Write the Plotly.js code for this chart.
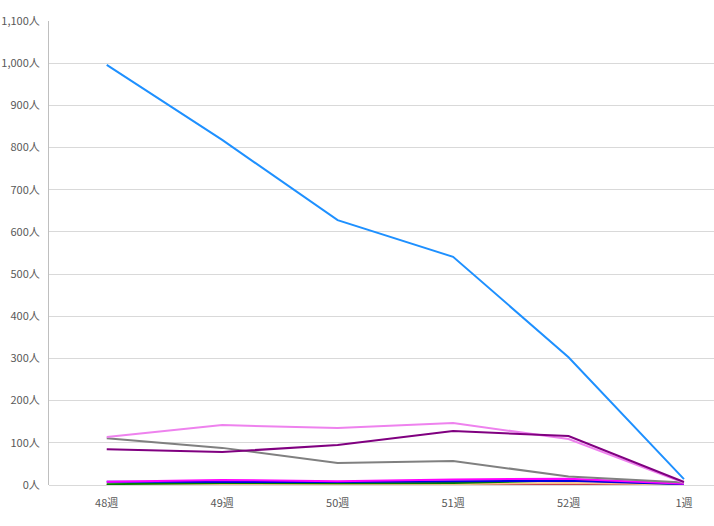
<!DOCTYPE html>
<html><head><meta charset="utf-8">
<script src="https://cdn.plot.ly/plotly-3.0.1.min.js"></script>
<style>html,body{margin:0;padding:0;background:#fff;overflow:hidden}#c{width:714px;height:526px}</style>
</head><body><div id="c"></div>
<script>
const weeks = ["48週","49週","50週","51週","52週","1週"];
const sBlue    = [996, 818, 628, 541, 303, 14];
const sViolet  = [114, 142, 135, 147, 109, 5];
const sPurple  = [85, 78, 95, 128, 116, 7];
const sGray    = [111, 88, 52, 57, 20, 6];
const sMagenta = [8, 12, 9, 13, 15, 3];
const sNavy    = [8, 8, 7, 9, 10, 2];
const sGreen   = [2, 5, 4, 5, 11, 3];
const sTan     = [1, 2, 1, 2, 5, 1];
const sRed     = [0, 2, 1, 1, 1, 0];

const series = [
  [sRed, "#c0143c"],
  [sTan, "#f4c089"],
  [sGreen, "#008000"],
  [sNavy, "#0000e0"],
  [sMagenta, "#ff00ff"],
  [sGray, "#808080"],
  [sViolet, "#ee82ee"],
  [sPurple, "#800080"],
  [sBlue, "#1e90ff"]
];
const traces = series.map(([y,c]) => ({
  x: weeks, y: y, type: "scatter", mode: "lines",
  line: {color: c, width: 2}, hoverinfo: "skip"
}));
const layout = {
  width: 714, height: 526,
  margin: {l: 49, r: 0, t: 21, b: 41},
  showlegend: false,
  paper_bgcolor: "#fff", plot_bgcolor: "#fff",
  font: {family: "'Noto Sans CJK JP', 'Noto Sans', sans-serif", size: 11, color: "#595959"},
  xaxis: {type: "category", range: [-0.5, 5.26], showgrid: false, zeroline: false,
          showline: false, ticks: "", ticklabelstandoff: 10, tickfont: {size: 11, color: "#595959"}},
  yaxis: {range: [0, 1100], dtick: 100, tickformat: ",d", ticksuffix: "人",
          separatethousands: true, gridcolor: "#d9d9d9", gridwidth: 1,
          zeroline: true, zerolinecolor: "#d9d9d9", zerolinewidth: 1,
          showline: true, linecolor: "#bfbfbf", linewidth: 1, ticks: "",
          ticklabelstandoff: 6, tickfont: {size: 11, color: "#595959"}}
};
Plotly.newPlot("c", traces, layout, {displayModeBar: false, staticPlot: true});
</script></body></html>
